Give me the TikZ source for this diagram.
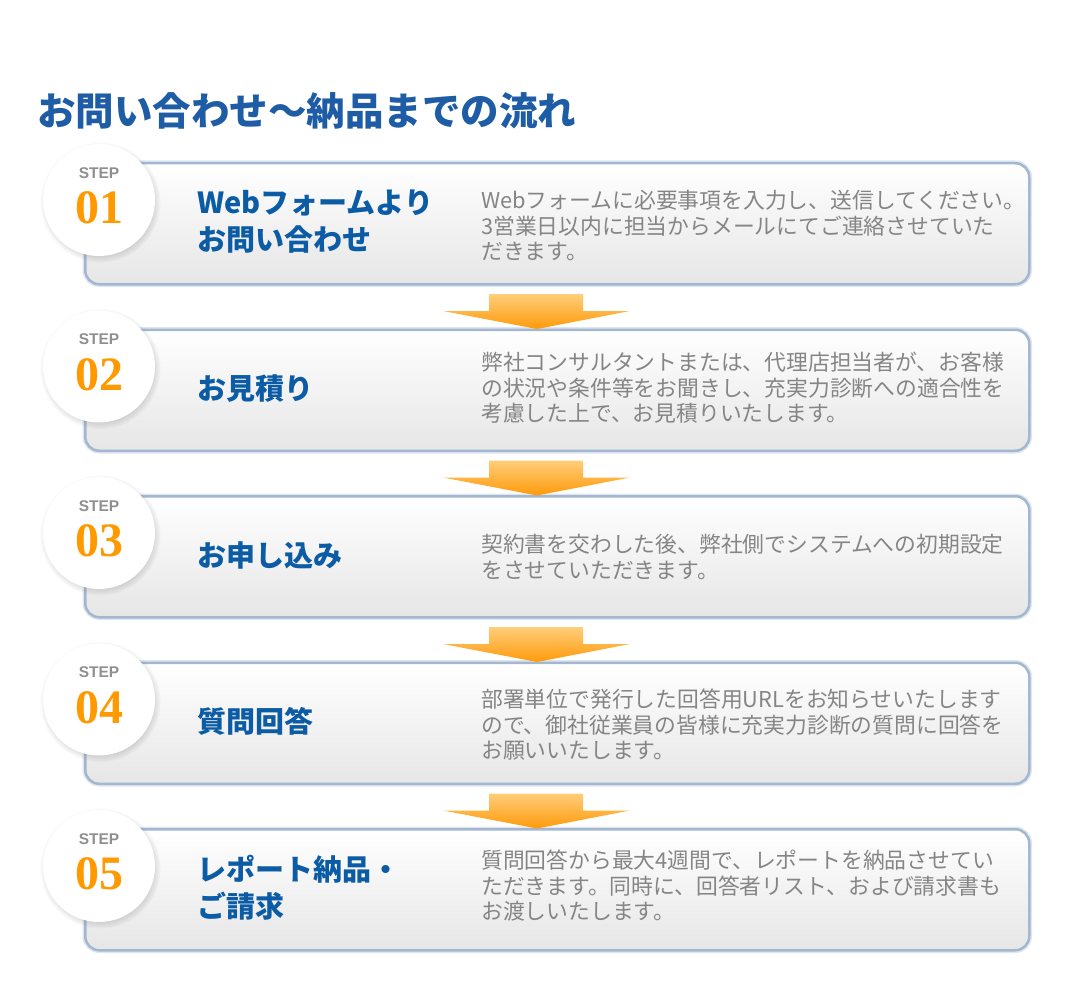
\documentclass[tikz,border=0pt]{standalone}
\usepackage{fontspec}
\usepackage{tikz}
\usetikzlibrary{positioning, shadows}
\newfontfamily\jpfont{Noto Sans CJK JP}
\newfontfamily\numfont{Liberation Serif}
\newfontfamily\stepfont{Liberation Sans}
\definecolor{titleblue}{HTML}{1E5DA5}
\definecolor{headblue}{HTML}{0B5BA5}
\definecolor{boxedge}{HTML}{A3B7D1}
\definecolor{boxbottom}{HTML}{E6E6E6}
\definecolor{stepgray}{HTML}{8F8F8F}
\definecolor{numorange}{HTML}{FF9900}
\definecolor{desctext}{HTML}{858585}
\definecolor{arrowtop}{HTML}{FFCE7A}
\definecolor{arrowbot}{HTML}{FF9A0A}

\begin{document}
\begin{tikzpicture}[x=1pt, y=-1pt,
  stepbox/.style={draw=boxedge, line width=2.5pt, rounded corners=14pt, top color=white, bottom color=boxbottom,
    minimum width=944pt, minimum height=121pt, anchor=north west, inner sep=0pt,
    preaction={draw=boxedge, line width=5.5pt, opacity=.35, rounded corners=14pt}},
  badge/.style={circle, fill=white, minimum size=112pt, inner sep=0pt,
    circular drop shadow={shadow xshift=1pt, shadow yshift=-2pt, shadow scale=1.08, opacity=.32}},
  steplbl/.style={text=stepgray, font=\stepfont\bfseries\fontsize{15.5}{15.5}\selectfont, inner sep=0pt},
  numlbl/.style={text=numorange, font=\numfont\bfseries\fontsize{48}{48}\selectfont, inner sep=0pt},
  title/.style={text=titleblue, font=\jpfont\bfseries\fontsize{38.5}{40}\selectfont, anchor=west, inner sep=0pt},
  head/.style={text=headblue, font=\jpfont\bfseries\fontsize{29}{37}\selectfont, align=left, anchor=west, inner sep=0pt},
  desc/.style={text=desctext, font=\jpfont\fontsize{21.8}{25.5}\selectfont, align=left, anchor=west, inner sep=0pt}]
\useasboundingbox (0,0) rectangle (1083,1000);
% title
\node[title] (title) at (37,111) {お問い合わせ〜納品までの流れ};
% steps
\foreach \i/\hd/\ds/\dy in {
  1/{Webフォームより\\お問い合わせ}/{Webフォームに必要事項を入力し、送信してください。\\3営業日以内に担当からメールにてご連絡させていた\\だきます。}/226,
  2/{お見積り}/{弊社コンサルタントまたは、代理店担当者が、お客様\\の状況や条件等をお聞きし、充実力診断への適合性を\\考慮した上で、お見積りいたします。}/388,
  3/{お申し込み}/{契約書を交わした後、弊社側でシステムへの初期設定\\をさせていただきます。}/557,
  4/{質問回答}/{部署単位で発行した回答用URLをお知らせいたします\\ので、御社従業員の皆様に充実力診断の質問に回答を\\お願いいたします。}/725,
  5/{レポート納品・\\ご請求}/{質問回答から最大4週間で、レポートを納品させてい\\ただきます。同時に、回答者リスト、および請求書も\\お渡しいたします。}/886}{
  \pgfmathsetmacro{\ytop}{162+166.5*(\i-1)}
  \node[stepbox] (box\i) at (84,\ytop) {};
  \node[badge] (badge\i) at (99,\ytop+38) {};
  \node[steplbl] (step\i) at (99,\ytop+11) {STEP};
  \node[numlbl] (num\i) at (99,\ytop+46) {0\i};
  \node[head] (head\i) at (197,\ytop+60) {\hd};
  \node[desc] (desc\i) at (481,\dy) {\ds};
}
% arrows between the boxes
\foreach \i in {1,...,4}{
  \pgfmathsetmacro{\ya}{294+166.5*(\i-1)}
  \shade[top color=arrowtop, bottom color=arrowbot] (489,\ya) -- (583,\ya) -- (583,\ya+17) -- (630,\ya+17)
    -- (537,\ya+35) -- (443,\ya+17) -- (489,\ya+17) -- cycle;
}
\end{tikzpicture}
\end{document}
